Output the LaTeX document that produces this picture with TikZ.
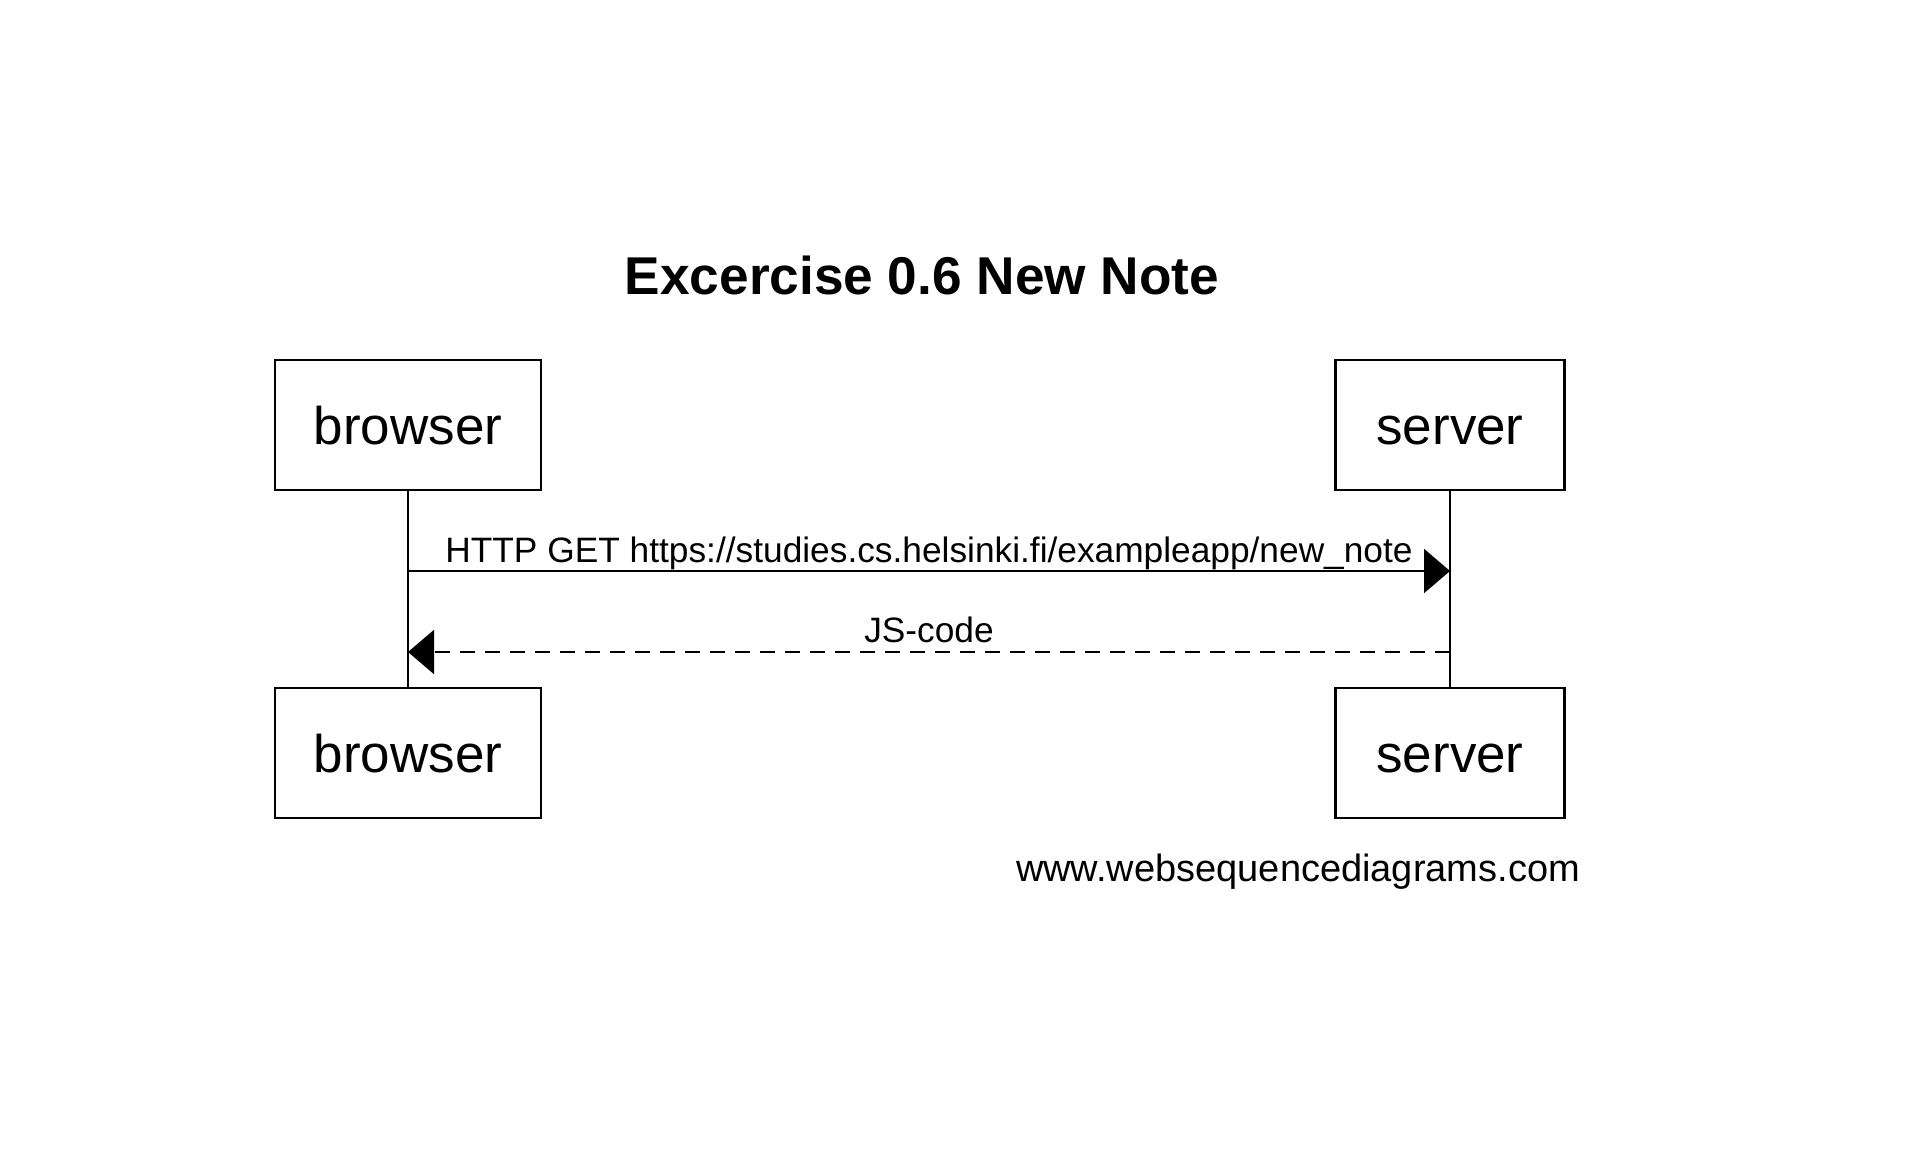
\documentclass[tikz,border=0pt]{standalone}
\usepackage{fontspec}
\setmainfont{Liberation Sans}
\usetikzlibrary{arrows.meta,positioning}

\begin{document}
\begin{tikzpicture}[x=1pt, y=-1pt,
  actor/.style={draw, line width=2.4pt, minimum height=130pt, inner sep=0pt,
    text height=38.7pt, text depth=0pt, font=\fontsize{53}{60}\selectfont},
  life/.style={line width=2pt},
  msg/.style={line width=2pt, -{Triangle[length=26pt,width=44pt]}},
  reply/.style={msg, dash pattern=on 15pt off 10pt},
  lbl/.style={font=\fontsize{35.3}{40}\selectfont, inner sep=0pt}]
  \useasboundingbox (0,0) rectangle (1916,1158);
  \node (title) at (922,275) {\fontsize{53.2}{60}\selectfont\bfseries Excercise 0.6 New Note};
  % participants
  \node[actor, minimum width=266pt] (browser) at (408,425) {browser};
  \node[actor, minimum width=229pt] (server) at (1450,425) {server};
  \node[actor, minimum width=266pt] (browser2) at (408,753) {browser};
  \node[actor, minimum width=229pt] (server2) at (1450,753) {server};
  \draw[life] (browser.south) -- (browser2.north);
  \draw[life] (server.south) -- (server2.north);
  % messages
  \coordinate (getB) at (408,571);
  \coordinate (getS) at (1450,571);
  \coordinate (jsS) at (1450,652);
  \coordinate (jsB) at (408,652);
  \draw[msg] (getB) -- node[lbl, above] {HTTP GET https://studies.cs.helsinki.fi/exampleapp/new\_note} (getS);
  \draw[reply] (jsS) -- node[lbl, above=8pt] {JS-code} (jsB);
  \node[lbl, font=\fontsize{38}{42}\selectfont] (credit) at (1298,872) {www.websequencediagrams.com};
\end{tikzpicture}
\end{document}
